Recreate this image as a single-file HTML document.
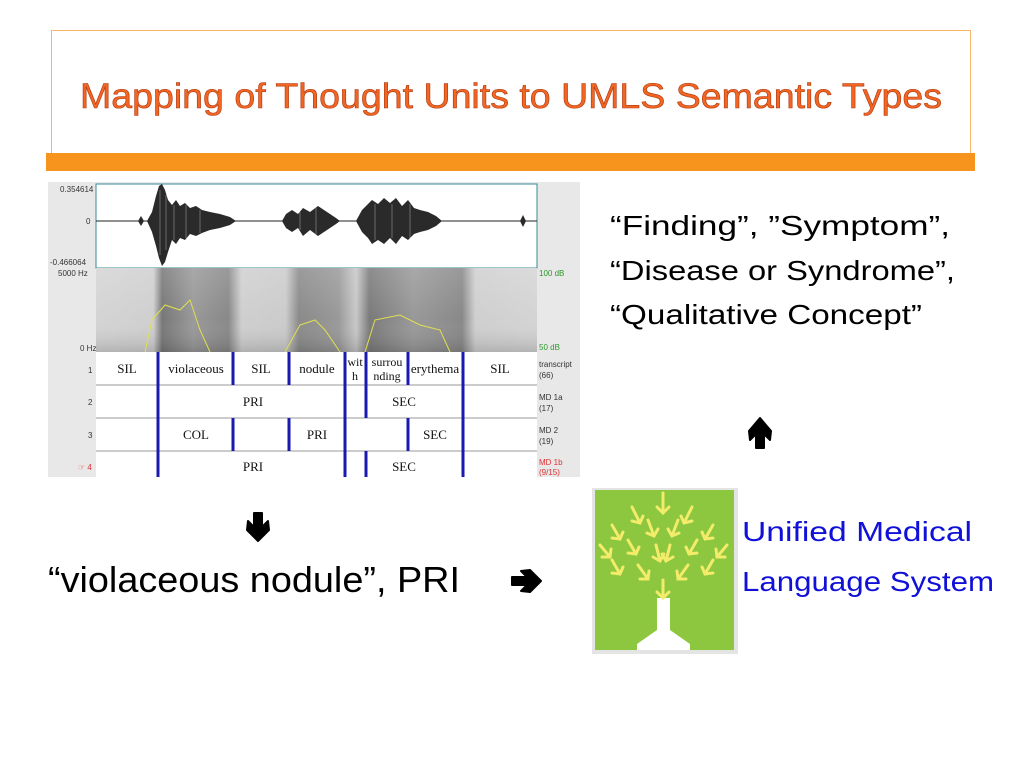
<!DOCTYPE html>
<html><head><meta charset="utf-8"><style>
html,body{margin:0;padding:0;background:#fff;width:1023px;height:767px;overflow:hidden}
svg{display:block}
.s{font-family:"Liberation Sans",sans-serif}
.sr{font-family:"Liberation Serif",serif}
</style></head><body>
<svg width="1023" height="767" viewBox="0 0 1023 767" xmlns="http://www.w3.org/2000/svg">
<defs>
<linearGradient id="spec" x1="0" x2="1" y1="0" y2="0">
<stop offset="0" stop-color="#d4d4d4"/><stop offset="0.13" stop-color="#cfcfcf"/>
<stop offset="0.15" stop-color="#777"/><stop offset="0.22" stop-color="#999"/><stop offset="0.3" stop-color="#888"/>
<stop offset="0.33" stop-color="#cfcfcf"/><stop offset="0.43" stop-color="#cbcbcb"/>
<stop offset="0.46" stop-color="#8a8a8a"/><stop offset="0.55" stop-color="#999"/>
<stop offset="0.59" stop-color="#c8c8c8"/><stop offset="0.62" stop-color="#7a7a7a"/>
<stop offset="0.72" stop-color="#999"/><stop offset="0.83" stop-color="#888"/><stop offset="0.86" stop-color="#cfcfcf"/>
<stop offset="1" stop-color="#d4d4d4"/>
</linearGradient>
<linearGradient id="specv" x1="0" x2="0" y1="0" y2="1">
<stop offset="0" stop-color="#fff" stop-opacity="0.15"/><stop offset="0.6" stop-color="#fff" stop-opacity="0"/><stop offset="1" stop-color="#000" stop-opacity="0.15"/>
</linearGradient>
</defs>
<rect x="51.5" y="30.5" width="919" height="124" fill="#fff" stroke="#f9b56a" stroke-width="1"/>
<rect x="46" y="153" width="929" height="18" fill="#f7941d"/>
<text class="s" x="80" y="108" font-size="35" fill="#f26522" stroke="#b03a10" stroke-width="0.6" textLength="862" lengthAdjust="spacingAndGlyphs">Mapping of Thought Units to UMLS Semantic Types</text>

<rect x="48" y="182" width="532" height="295" fill="#e8e8e8"/>
<rect x="96" y="184" width="441" height="84" fill="#fff" stroke="#3a8a9a" stroke-width="1"/>
<line x1="96" y1="221" x2="537" y2="221" stroke="#222" stroke-width="1"/>
<g fill="#2a2a2a">
<polygon points="147,221 152,212 156,196 159,186 162,184 165,190 168,200 172,205 176,200 180,206 185,203 190,208 196,206 202,210 210,212 220,214 230,217 236,221 230,225 220,228 210,230 202,233 196,236 190,234 185,240 180,238 176,244 172,240 168,252 165,262 162,266 159,258 156,246 152,232"/>
<polygon points="138,221 141,216 144,221 141,226"/>
<polygon points="282,221 286,214 292,210 298,214 303,208 310,212 318,206 324,210 330,214 336,218 340,221 336,224 330,228 324,232 318,236 310,230 303,236 298,228 292,232 286,228"/>
<polygon points="356,221 362,210 368,204 372,200 378,204 384,198 390,203 396,198 402,206 408,200 414,208 420,210 428,212 436,216 442,221 436,226 428,230 420,232 414,234 408,240 402,236 396,244 390,238 384,244 378,240 372,244 368,238 362,232"/>
<polygon points="520,221 523,215 526,221 523,227"/>
</g>
<g stroke="#fff" stroke-width="0.6" opacity="0.5">
<line x1="160" y1="190" x2="160" y2="255"/><line x1="166" y1="195" x2="166" y2="250"/><line x1="174" y1="205" x2="174" y2="240"/><line x1="186" y1="205" x2="186" y2="238"/><line x1="200" y1="210" x2="200" y2="233"/>
<line x1="300" y1="212" x2="300" y2="230"/><line x1="316" y1="208" x2="316" y2="234"/>
<line x1="375" y1="204" x2="375" y2="240"/><line x1="392" y1="204" x2="392" y2="238"/><line x1="410" y1="204" x2="410" y2="238"/>
</g>
<rect x="96" y="268" width="441" height="84" fill="url(#spec)"/>
<rect x="96" y="268" width="441" height="84" fill="url(#specv)"/>
<polyline points="145,352 152,320 165,305 180,310 190,300 200,330 210,352" fill="none" stroke="#e0e050" stroke-width="1"/>
<polyline points="285,352 300,325 315,320 325,330 340,352" fill="none" stroke="#e0e050" stroke-width="1"/>
<polyline points="365,352 375,320 400,315 420,325 440,330 450,352" fill="none" stroke="#e0e050" stroke-width="1"/>
<rect x="96" y="352" width="441" height="125" fill="#fff"/>
<g stroke="#999" stroke-width="1">
<line x1="96" y1="385" x2="537" y2="385"/><line x1="96" y1="418" x2="537" y2="418"/><line x1="96" y1="451" x2="537" y2="451"/>
</g>
<g stroke="#1a1ab0" stroke-width="3">
<line x1="158" y1="352" x2="158" y2="477"/>
<line x1="233" y1="352" x2="233" y2="385"/><line x1="233" y1="418" x2="233" y2="451"/>
<line x1="289" y1="352" x2="289" y2="385"/><line x1="289" y1="418" x2="289" y2="451"/>
<line x1="345" y1="352" x2="345" y2="477"/>
<line x1="366" y1="352" x2="366" y2="418"/><line x1="366" y1="451" x2="366" y2="477"/>
<line x1="408" y1="352" x2="408" y2="385"/><line x1="408" y1="418" x2="408" y2="451"/>
<line x1="463" y1="352" x2="463" y2="477"/>
</g>
<g class="sr" font-size="13" fill="#111" text-anchor="middle">
<text class="sr" x="127" y="373">SIL</text><text class="sr" x="196" y="373">violaceous</text><text class="sr" x="261" y="373">SIL</text>
<text class="sr" x="317" y="373">nodule</text><text class="sr" x="355" y="366" font-size="12">wit</text><text class="sr" x="355" y="380" font-size="12">h</text>
<text class="sr" x="387" y="366" font-size="12">surrou</text><text class="sr" x="387" y="380" font-size="12">nding</text>
<text class="sr" x="435" y="373">erythema</text><text class="sr" x="500" y="373">SIL</text>
<text class="sr" x="253" y="406">PRI</text><text class="sr" x="404" y="406">SEC</text>
<text class="sr" x="196" y="439">COL</text><text class="sr" x="317" y="439">PRI</text><text class="sr" x="435" y="439">SEC</text>
<text class="sr" x="253" y="471">PRI</text><text class="sr" x="404" y="471">SEC</text>
</g>
<g class="s" font-size="8" fill="#333">
<text x="60" y="192">0.354614</text><text x="86" y="224">0</text><text x="50" y="265">-0.466064</text>
<text x="58" y="276">5000 Hz</text><text x="80" y="351">0 Hz</text>
<text x="88" y="373">1</text><text x="88" y="405">2</text><text x="88" y="438">3</text>
<text x="78" y="470" fill="#e03030">☞ 4</text>
<text x="539" y="367">transcript</text><text x="539" y="378">(66)</text>
<text x="539" y="400">MD 1a</text><text x="539" y="411">(17)</text>
<text x="539" y="433">MD 2</text><text x="539" y="444">(19)</text>
<text x="539" y="465" fill="#e03030">MD 1b</text><text x="539" y="475" fill="#e03030">(9/15)</text>
<text x="539" y="276" fill="#2a9a2a">100 dB</text><text x="539" y="350" fill="#2a9a2a">50 dB</text>
</g>

<g class="s" font-size="28" fill="#000">
<text class="s" x="610" y="235" textLength="340" lengthAdjust="spacingAndGlyphs">“Finding”, ”Symptom”,</text>
<text class="s" x="610" y="280" textLength="345" lengthAdjust="spacingAndGlyphs">“Disease or Syndrome”,</text>
<text class="s" x="610" y="324" textLength="312" lengthAdjust="spacingAndGlyphs">“Qualitative Concept”</text>
</g>
<!-- chevron-style thick arrows -->
<path d="M756 448 L756 434 L750 440 L749 431 L760 418 L771 431 L770 440 L764 434 L764 448 Z" fill="#000" stroke="#000" stroke-width="2" stroke-linejoin="round"/>
<path d="M254 513 L262 513 L262 527 L268 521 L269 530 L258 541 L247 530 L248 521 L254 527 Z" fill="#000" stroke="#000" stroke-width="2" stroke-linejoin="round"/>
<path d="M512 577 L527 577 L521 571 L530 570 L541 581 L530 592 L521 591 L527 585 L512 585 Z" fill="#000" stroke="#000" stroke-width="2" stroke-linejoin="round"/>
<text class="s" x="48" y="592" font-size="36" fill="#000" textLength="412" lengthAdjust="spacingAndGlyphs">“violaceous nodule”, PRI</text>

<rect x="592" y="488" width="146" height="166" fill="#e4e4e4"/>
<rect x="595" y="490" width="139" height="160" fill="#8dc63f"/>
<path d="M657 598 L670 598 L670 630 L690 644 L690 650 L637 650 L637 644 L657 630 Z" fill="#fff"/>
<g stroke="#f2ec6a" stroke-width="3" fill="none" stroke-linecap="round">
<path d="M663 493 v20 m-6 -6 l6 6 6 -6"/>
<path d="M663 580 v18 m-6 -6 l6 6 6 -6"/>
<path d="M632 507 l8 16 m-8 -2 l8 2 3 -7"/><path d="M692 507 l-8 16 m8 -2 l-8 2 -3 -7"/>
<path d="M612 525 l8 14 m-8 -1 l8 1 3 -7"/><path d="M713 525 l-8 14 m8 -1 l-8 1 -3 -7"/>
<path d="M648 520 l6 16 m-7 -3 l7 3 4 -7"/><path d="M678 520 l-6 16 m7 -3 l-7 3 -4 -7"/>
<path d="M600 545 l10 12 m-8 0 l8 0 1 -8"/><path d="M727 545 l-10 12 m8 0 l-8 0 -1 -8"/>
<path d="M628 540 l8 14 m-8 -1 l8 1 3 -7"/><path d="M697 540 l-8 14 m8 -1 l-8 1 -3 -7"/>
<path d="M656 545 l4 16 m-7 -4 l7 4 4 -7"/><path d="M670 545 l-4 16 m7 -4 l-7 4 -4 -7"/>
<path d="M612 560 l8 14 m-8 -1 l8 1 3 -7"/><path d="M713 560 l-8 14 m8 -1 l-8 1 -3 -7"/>
<path d="M638 565 l10 14 m-8 0 l8 0 1 -8"/><path d="M688 565 l-10 14 m8 0 l-8 0 -1 -8"/>
</g>
<g class="s" font-size="28" fill="#1010d8">
<text class="s" x="742" y="541" textLength="230" lengthAdjust="spacingAndGlyphs">Unified Medical</text>
<text class="s" x="742" y="591" textLength="252" lengthAdjust="spacingAndGlyphs">Language System</text>
</g>
</svg>
</body></html>
